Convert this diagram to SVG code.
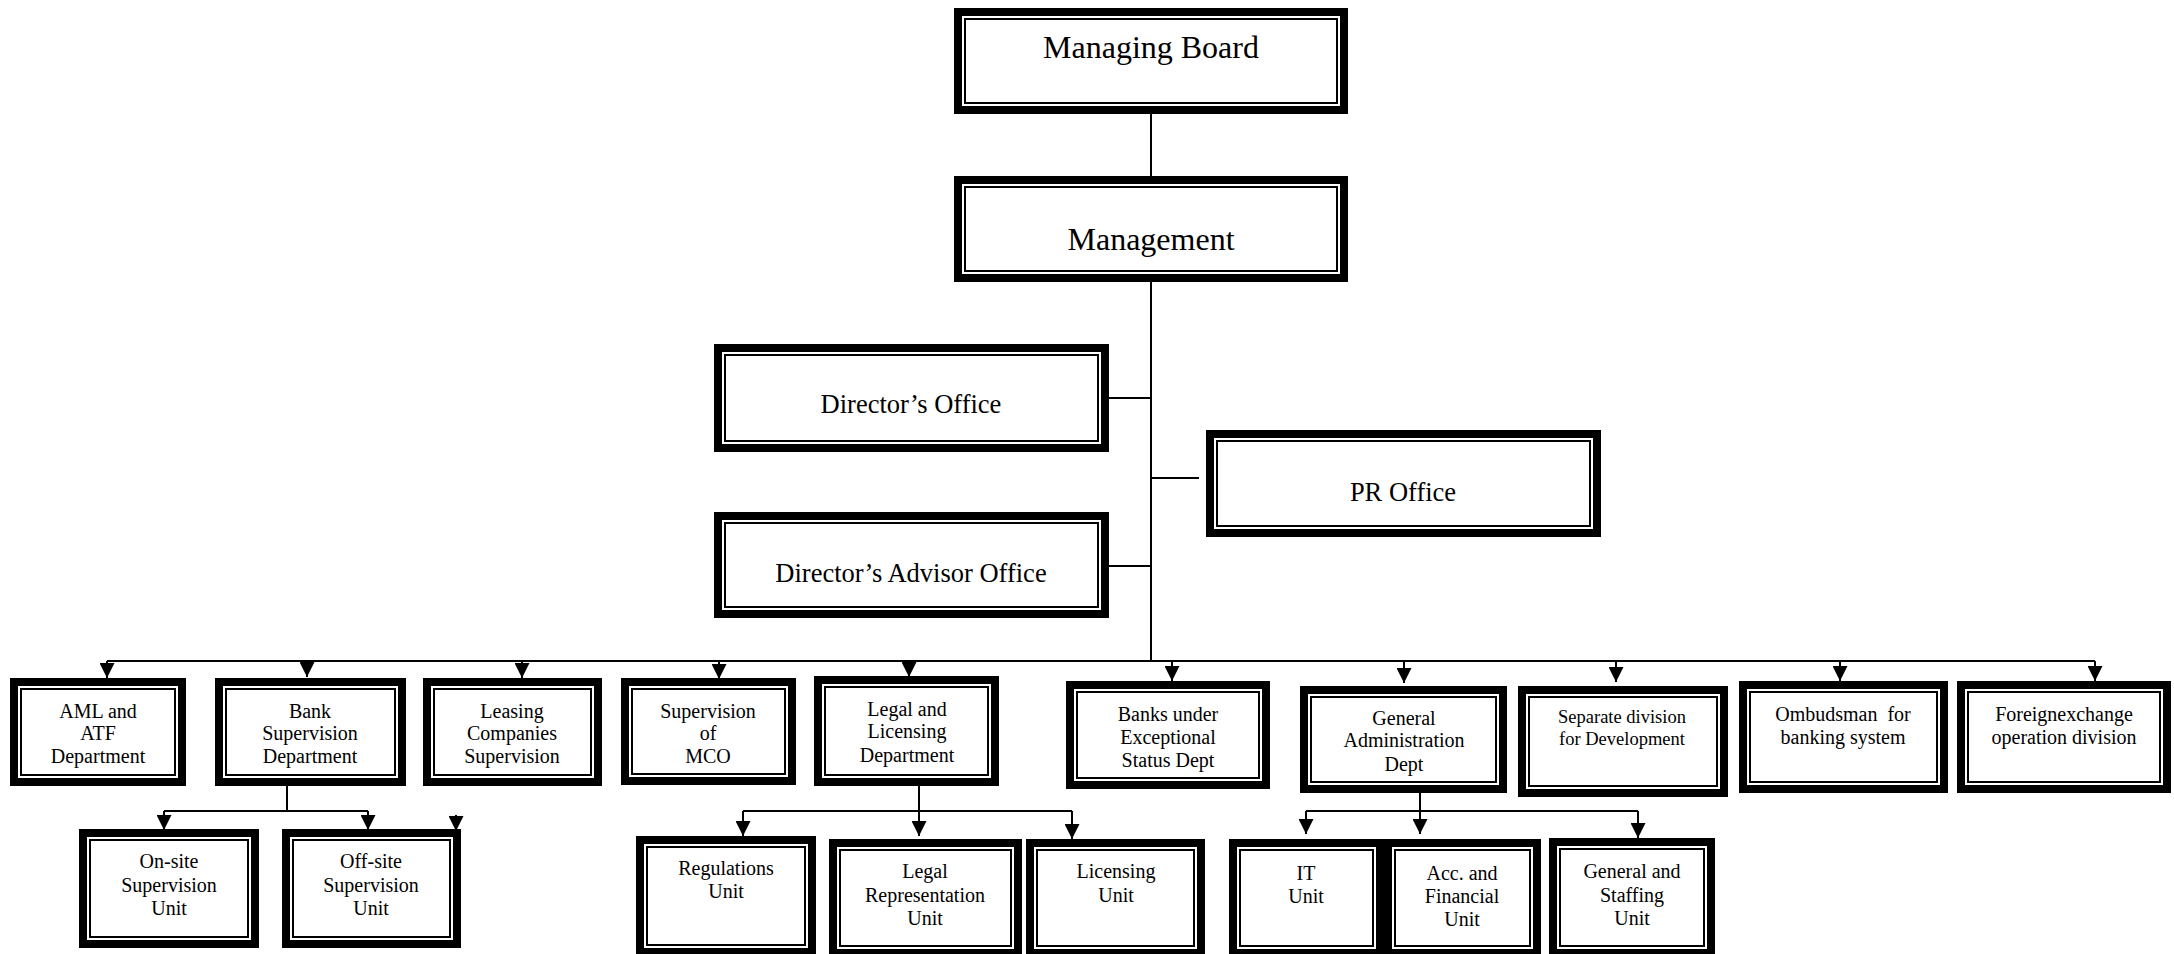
<svg xmlns="http://www.w3.org/2000/svg" width="2174" height="954" viewBox="0 0 2174 954">
  <style>
    .ob { fill: #fff; stroke: #000; stroke-width: 8; }
    .ib { fill: none; stroke: #000; stroke-width: 2; }
    text { font-family: "Liberation Serif", "Times New Roman", serif; fill: #000; text-anchor: middle; }
    .t1 { font-size: 32px; }
    .t2 { font-size: 26.5px; }
    .t3 { font-size: 20px; }
    .t4 { font-size: 18.5px; }
    .ln { fill: none; stroke: #000; stroke-width: 2; }
    .ar { fill: none; stroke: #000; stroke-width: 2; marker-end: url(#ah); }
  </style>
  <defs>
    <marker id="ah" viewBox="0 0 15 15" refX="15" refY="7.5" markerWidth="15" markerHeight="15" markerUnits="userSpaceOnUse" orient="auto">
      <path d="M0,0 L15,7.5 L0,15 z" fill="#000"/>
    </marker>
  </defs>
  <rect width="2174" height="954" fill="#fff"/>

  <!-- connectors -->
  <g id="connectors">
    <path class="ln" d="M1151,114 V176 M1151,282 V661 M107,661 H2095"/>
    <path class="ln" d="M1109,398 H1151 M1109,566 H1151 M1151,478 H1199"/>
    <path class="ar" d="M107,661 V678"/>
    <path class="ar" d="M307,661 V677"/>
    <path class="ar" d="M522,661 V678"/>
    <path class="ar" d="M719,661 V679"/>
    <path class="ar" d="M909,661 V677"/>
    <path class="ar" d="M1172,661 V681"/>
    <path class="ar" d="M1404,661 V683"/>
    <path class="ar" d="M1616,661 V682"/>
    <path class="ar" d="M1840,661 V681"/>
    <path class="ar" d="M2095,661 V681"/>
    <!-- bank supervision units -->
    <path class="ln" d="M287,786 V811 M164,811 H368"/>
    <path class="ar" d="M164,811 V830"/>
    <path class="ar" d="M368,811 V830"/>
    <path class="ar" d="M456,815 V831"/>
    <!-- legal and licensing units -->
    <path class="ln" d="M743,811 H1072"/>
    <path class="ar" d="M919,786 V836"/>
    <path class="ar" d="M743,811 V836"/>
    <path class="ar" d="M1072,811 V839"/>
    <!-- general administration units -->
    <path class="ln" d="M1306,811 H1638"/>
    <path class="ar" d="M1420,793 V834"/>
    <path class="ar" d="M1306,811 V834"/>
    <path class="ar" d="M1638,811 V838"/>
  </g>

  <!-- top level -->
  <g id="managing-board">
    <rect class="ob" x="958" y="12" width="386" height="98"/>
    <rect class="ib" x="965" y="19" width="372" height="84"/>
    <text class="t1" x="1151" y="58">Managing Board</text>
  </g>
  <g id="management">
    <rect class="ob" x="958" y="180" width="386" height="98"/>
    <rect class="ib" x="965" y="187" width="372" height="84"/>
    <text class="t1" x="1151" y="250">Management</text>
  </g>
  <g id="directors-office">
    <rect class="ob" x="718" y="348" width="387" height="100"/>
    <rect class="ib" x="725" y="355" width="373" height="86"/>
    <text class="t2" x="911" y="413">Director’s Office</text>
  </g>
  <g id="pr-office">
    <rect class="ob" x="1210" y="434" width="387" height="99"/>
    <rect class="ib" x="1217" y="441" width="373" height="85"/>
    <text class="t2" x="1403" y="501">PR Office</text>
  </g>
  <g id="directors-advisor-office">
    <rect class="ob" x="718" y="516" width="387" height="98"/>
    <rect class="ib" x="725" y="523" width="373" height="84"/>
    <text class="t2" x="911" y="582">Director’s Advisor Office</text>
  </g>

  <!-- departments -->
  <g id="aml-atf">
    <rect class="ob" x="14" y="682" width="168" height="100"/>
    <rect class="ib" x="21" y="689" width="154" height="86"/>
    <text class="t3" x="98" y="718">AML and</text>
    <text class="t3" x="98" y="740">ATF</text>
    <text class="t3" x="98" y="763">Department</text>
  </g>
  <g id="bank-supervision">
    <rect class="ob" x="219" y="682" width="183" height="100"/>
    <rect class="ib" x="226" y="689" width="169" height="86"/>
    <text class="t3" x="310" y="718">Bank</text>
    <text class="t3" x="310" y="740">Supervision</text>
    <text class="t3" x="310" y="763">Department</text>
  </g>
  <g id="leasing">
    <rect class="ob" x="427" y="682" width="171" height="100"/>
    <rect class="ib" x="434" y="689" width="157" height="86"/>
    <text class="t3" x="512" y="718">Leasing</text>
    <text class="t3" x="512" y="740">Companies</text>
    <text class="t3" x="512" y="763">Supervision</text>
  </g>
  <g id="mco-supervision">
    <rect class="ob" x="625" y="682" width="167" height="99"/>
    <rect class="ib" x="632" y="689" width="153" height="85"/>
    <text class="t3" x="708" y="718">Supervision</text>
    <text class="t3" x="708" y="740">of</text>
    <text class="t3" x="708" y="763">MCO</text>
  </g>
  <g id="legal-licensing">
    <rect class="ob" x="818" y="680" width="177" height="102"/>
    <rect class="ib" x="825" y="687" width="163" height="88"/>
    <text class="t3" x="907" y="716">Legal and</text>
    <text class="t3" x="907" y="738">Licensing</text>
    <text class="t3" x="907" y="762">Department</text>
  </g>
  <g id="banks-exceptional">
    <rect class="ob" x="1070" y="685" width="196" height="100"/>
    <rect class="ib" x="1077" y="692" width="182" height="86"/>
    <text class="t3" x="1168" y="721">Banks under</text>
    <text class="t3" x="1168" y="744">Exceptional</text>
    <text class="t3" x="1168" y="767">Status Dept</text>
  </g>
  <g id="general-administration">
    <rect class="ob" x="1304" y="690" width="199" height="99"/>
    <rect class="ib" x="1311" y="697" width="185" height="85"/>
    <text class="t3" x="1404" y="725">General</text>
    <text class="t3" x="1404" y="747">Administration</text>
    <text class="t3" x="1404" y="771">Dept</text>
  </g>
  <g id="development">
    <rect class="ob" x="1522" y="690" width="202" height="103"/>
    <rect class="ib" x="1529" y="697" width="188" height="89"/>
    <text class="t4" x="1622" y="723">Separate division</text>
    <text class="t4" x="1622" y="745">for Development</text>
  </g>
  <g id="ombudsman">
    <rect class="ob" x="1743" y="685" width="201" height="104"/>
    <rect class="ib" x="1750" y="692" width="187" height="90"/>
    <text class="t3" x="1843" y="721" xml:space="preserve">Ombudsman  for</text>
    <text class="t3" x="1843" y="744">banking system</text>
  </g>
  <g id="foreign-exchange">
    <rect class="ob" x="1961" y="685" width="206" height="104"/>
    <rect class="ib" x="1968" y="692" width="192" height="90"/>
    <text class="t3" x="2064" y="721">Foreignexchange</text>
    <text class="t3" x="2064" y="744">operation division</text>
  </g>

  <!-- units -->
  <g id="onsite">
    <rect class="ob" x="83" y="833" width="172" height="111"/>
    <rect class="ib" x="90" y="840" width="158" height="97"/>
    <text class="t3" x="169" y="868">On-site</text>
    <text class="t3" x="169" y="892">Supervision</text>
    <text class="t3" x="169" y="915">Unit</text>
  </g>
  <g id="offsite">
    <rect class="ob" x="286" y="833" width="171" height="111"/>
    <rect class="ib" x="293" y="840" width="157" height="97"/>
    <text class="t3" x="371" y="868">Off-site</text>
    <text class="t3" x="371" y="892">Supervision</text>
    <text class="t3" x="371" y="915">Unit</text>
  </g>
  <g id="regulations">
    <rect class="ob" x="640" y="840" width="172" height="112"/>
    <rect class="ib" x="647" y="847" width="158" height="98"/>
    <text class="t3" x="726" y="875">Regulations</text>
    <text class="t3" x="726" y="898">Unit</text>
  </g>
  <g id="legal-representation">
    <rect class="ob" x="833" y="843" width="185" height="110"/>
    <rect class="ib" x="840" y="850" width="171" height="96"/>
    <text class="t3" x="925" y="878">Legal</text>
    <text class="t3" x="925" y="902">Representation</text>
    <text class="t3" x="925" y="925">Unit</text>
  </g>
  <g id="licensing">
    <rect class="ob" x="1030" y="843" width="171" height="110"/>
    <rect class="ib" x="1037" y="850" width="157" height="96"/>
    <text class="t3" x="1116" y="878">Licensing</text>
    <text class="t3" x="1116" y="902">Unit</text>
  </g>
  <g id="it">
    <rect class="ob" x="1233" y="843" width="147" height="110"/>
    <rect class="ib" x="1240" y="850" width="133" height="96"/>
    <text class="t3" x="1306" y="880">IT</text>
    <text class="t3" x="1306" y="903">Unit</text>
  </g>
  <g id="accounting">
    <rect class="ob" x="1388" y="843" width="149" height="110"/>
    <rect class="ib" x="1395" y="850" width="135" height="96"/>
    <text class="t3" x="1462" y="880">Acc. and</text>
    <text class="t3" x="1462" y="903">Financial</text>
    <text class="t3" x="1462" y="926">Unit</text>
  </g>
  <g id="general-staffing">
    <rect class="ob" x="1553" y="842" width="158" height="111"/>
    <rect class="ib" x="1560" y="849" width="144" height="97"/>
    <text class="t3" x="1632" y="878">General and</text>
    <text class="t3" x="1632" y="902">Staffing</text>
    <text class="t3" x="1632" y="925">Unit</text>
  </g>
</svg>
